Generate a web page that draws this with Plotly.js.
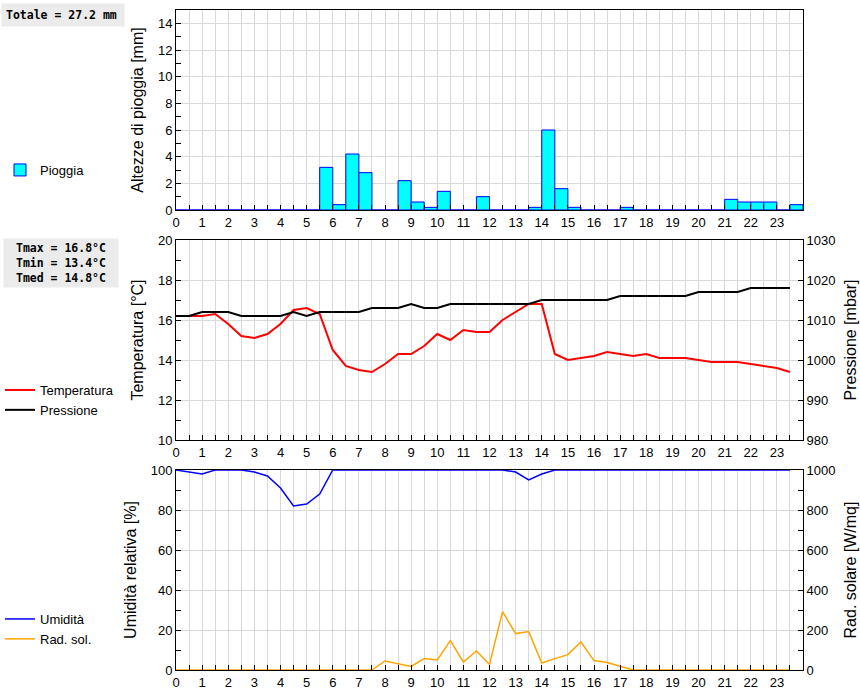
<!DOCTYPE html>
<html>
<head>
<meta charset="utf-8">
<script src="https://cdn.plot.ly/plotly-3.0.1.min.js"></script>
<style>html,body{margin:0;padding:0;background:#fff;}#chart{width:860px;height:690px;}</style>
</head>
<body>
<div id="chart"></div>
<script>
// Half-hour time stamps (hours)
const times = [0,0.5,1,1.5,2,2.5,3,3.5,4,4.5,5,5.5,6,6.5,7,7.5,8,8.5,9,9.5,10,10.5,11,11.5,
               12,12.5,13,13.5,14,14.5,15,15.5,16,16.5,17,17.5,18,18.5,19,19.5,20,20.5,21,21.5,22,22.5,23,23.5];
const hourTicks = [0,1,2,3,4,5,6,7,8,9,10,11,12,13,14,15,16,17,18,19,20,21,22,23];

// Rain per half hour [mm] (bin starting at the time stamp)
const rain = [0,0,0,0,0,0,0,0,0,0,0,3.2,0.4,4.2,2.8,0,0,2.2,0.6,0.2,1.4,0,0,1.0,
              0,0,0,0.2,6.0,1.6,0.2,0,0,0,0.2,0,0,0,0,0,0,0,0.8,0.6,0.6,0.6,0,0.4];

// Temperature [°C]
const temp = [16.2,16.2,16.2,16.3,15.8,15.2,15.1,15.3,15.8,16.5,16.6,16.3,14.5,13.7,13.5,13.4,
              13.8,14.3,14.3,14.7,15.3,15.0,15.5,15.4,15.4,16.0,16.4,16.8,16.8,14.3,14.0,14.1,
              14.2,14.4,14.3,14.2,14.3,14.1,14.1,14.1,14.0,13.9,13.9,13.9,13.8,13.7,13.6,13.4];

// Pressure [mbar]
const press = [1011,1011,1012,1012,1012,1011,1011,1011,1011,1012,1011,1012,1012,1012,1012,1013,
               1013,1013,1014,1013,1013,1014,1014,1014,1014,1014,1014,1014,1015,1015,1015,1015,
               1015,1015,1016,1016,1016,1016,1016,1016,1017,1017,1017,1017,1018,1018,1018,1018];

// Relative humidity [%]
const hum = [100,99,98,100,100,100,99,97,91,82,83,88,100,100,100,100,
             100,100,100,100,100,100,100,100,100,100,99,95,98,100,100,100,
             100,100,100,100,100,100,100,100,100,100,100,100,100,100,100,100];

// Solar radiation [W/mq]
const rad = [0,0,0,0,0,0,0,0,0,0,0,0,0,0,0,0,
             45,32,18,57,50,147,40,95,28,292,182,192,35,57,77,140,
             47,37,20,0,0,0,0,0,0,0,0,0,0,0,0,0];

const summaryRain = "Totale = 27.2 mm";
const summaryTemp = ["Tmax = 16.8°C","Tmin = 13.4°C","Tmed = 14.8°C"];

const tickFont = {family:"Liberation Sans, Arial, sans-serif", size:13, color:"#000"};
const titleFont = {family:"Liberation Sans, Arial, sans-serif", size:16, color:"#000"};
const gridC = "#d9d9d9";

function xAxis(anchor){
  return {
    anchor: anchor, domain:[0,1], range:[0,24], tickmode:"array", tickvals:hourTicks,
    ticks:"inside", ticklen:5, tickcolor:"#000", showgrid:true, gridcolor:gridC, gridwidth:1,
    minor:{tickmode:"array", tickvals:times, ticks:"inside", ticklen:5, tickcolor:"#000", showgrid:true, gridcolor:gridC},
    showline:true, linecolor:"#000", linewidth:1, mirror:true, zeroline:false,
    tickfont:tickFont, fixedrange:true, layer:"above traces"
  };
}
function yAxis(domain, range, dtick, minorDt, title, opts){
  return Object.assign({
    domain:domain, range:range, dtick:dtick, tick0:range[0], ticks:"inside", ticklen:5, tickcolor:"#000",
    minor:{dtick:minorDt, ticks:"inside", ticklen:5, tickcolor:"#000", showgrid:false},
    showgrid:true, gridcolor:gridC, showline:true, linecolor:"#000", linewidth:1, zeroline:false,
    tickfont:tickFont, title:{text:title, font:titleFont, standoff:10}, fixedrange:true, automargin:false
  }, opts||{});
}

const data = [
  {type:"bar", x:times, y:rain, offset:0, width:0.5, xaxis:"x", yaxis:"y", name:"Pioggia",
   marker:{color:"#00ffff", line:{color:"#0000ff", width:1}}, legend:"legend"},
  {type:"scatter", mode:"lines", x:times, y:temp, xaxis:"x2", yaxis:"y2", name:"Temperatura",
   line:{color:"#ff0000", width:2}, legend:"legend2"},
  {type:"scatter", mode:"lines", x:times, y:press, xaxis:"x2", yaxis:"y3", name:"Pressione",
   line:{color:"#000000", width:2}, legend:"legend2"},
  {type:"scatter", mode:"lines", x:times, y:hum, xaxis:"x3", yaxis:"y4", name:"Umidità",
   line:{color:"#0000ff", width:1.5}, legend:"legend3"},
  {type:"scatter", mode:"lines", x:times, y:rad, xaxis:"x3", yaxis:"y5", name:"Rad. sol.",
   line:{color:"#ffa500", width:1.5}, legend:"legend3"}
];

const H = 660;
const topD = [460/H, 1], midD = [230/H, 430/H], botD = [0, 200/H];
const legX = (0-176)/627;
const legCommon = {xref:"paper", yref:"paper", x:legX, xanchor:"left", yanchor:"middle",
  bgcolor:"rgba(0,0,0,0)", font:{family:"Liberation Sans, Arial, sans-serif", size:13, color:"#000"}};

const layout = {
  width:860, height:690, margin:{l:176, r:57, t:10, b:20, autoexpand:false},
  paper_bgcolor:"#fff", plot_bgcolor:"#fff", showlegend:true, bargap:0,
  xaxis: xAxis("y"),
  xaxis2: xAxis("y2"),
  xaxis3: xAxis("y4"),
  yaxis: yAxis(topD, [0,15], 2, 1, "Altezze di pioggia [mm]", {anchor:"x", mirror:true}),
  yaxis2: yAxis(midD, [10,20], 2, 1, "Temperatura [°C]", {anchor:"x2"}),
  yaxis3: yAxis(midD, [980,1030], 10, 5, "Pressione [mbar]", {anchor:"x2", overlaying:"y2", side:"right", showgrid:false}),
  yaxis4: yAxis(botD, [0,100], 20, 10, "Umidità relativa [%]", {anchor:"x3"}),
  yaxis5: yAxis(botD, [0,1000], 200, 100, "Rad. solare [W/mq]", {anchor:"x3", overlaying:"y4", side:"right", showgrid:false}),
  legend: Object.assign({}, legCommon, {y:(670-170)/H}),
  legend2: Object.assign({}, legCommon, {y:(670-400)/H}),
  legend3: Object.assign({}, legCommon, {y:(670-629)/H}),
  annotations:[
    {xref:"paper", yref:"paper", x:(1-176)/627, y:(670-3)/H, xanchor:"left", yanchor:"top",
     text:"<b>"+summaryRain+"</b>", showarrow:false, align:"left", bgcolor:"#ebebeb", borderpad:4, width:114,
     font:{family:"DejaVu Sans Mono, monospace", size:11.5, color:"#000"}},
    {xref:"paper", yref:"paper", x:(3-176)/627, y:(670-238)/H, xanchor:"left", yanchor:"top",
     text:"<b>"+summaryTemp.join("<br>")+"</b>", showarrow:false, align:"center", bgcolor:"#ebebeb", borderpad:2, width:110,
     font:{family:"DejaVu Sans Mono, monospace", size:11.5, color:"#000"}}
  ]
};

Plotly.newPlot("chart", data, layout, {displayModeBar:false, staticPlot:true});
</script>
</body>
</html>
